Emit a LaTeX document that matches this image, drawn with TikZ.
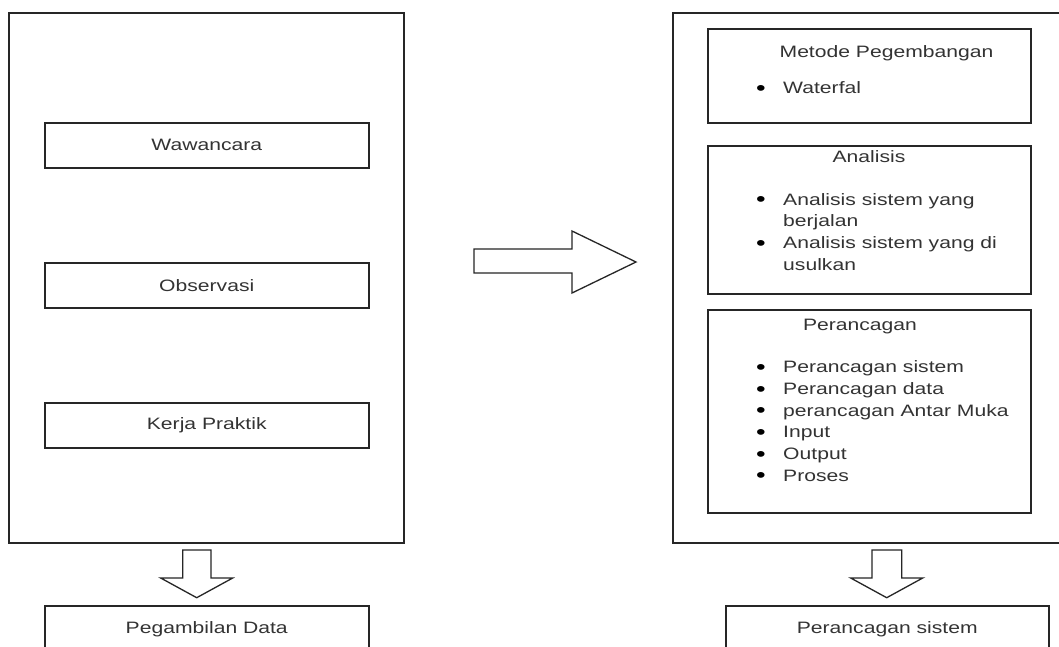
\documentclass[tikz,border=0pt]{standalone}
\usepackage{fontspec}
\setmainfont[FakeStretch=1.28]{Liberation Sans}
\definecolor{txt}{HTML}{333333}
\definecolor{ln}{HTML}{262626}
\newcommand{\lbul}{\textcolor{black}{\raisebox{-1.7pt}{\scalebox{1.3}{\textbullet}}}}
\begin{document}
\begin{tikzpicture}[x=1pt,y=-1pt,
  every node/.style={font=\fontsize{16.5}{21.7}\selectfont, text=txt},
  box/.style={draw=ln, line width=1.5pt, inner sep=0pt, anchor=north west},
  blockarrow/.style={draw=ln, line width=1.3pt, fill=white, line join=miter},
  listtext/.style={anchor=base west, inner sep=0pt}]
\clip (0,0) rectangle (1059,646);
\fill[white] (0,0) rectangle (1059,646);

% left column
\node[box, minimum width=395, minimum height=530] (lbig) at (8,12) {};
\node[box, minimum width=324, minimum height=45] (waw) at (44,122) {Wawancara};
\node[box, minimum width=324, minimum height=45] (obs) at (44,262) {Observasi};
\node[box, minimum width=324, minimum height=45] (kp) at (44,402) {Kerja Praktik};
\node[box, minimum width=324, minimum height=46] (peg) at (44,605) {Pegambilan Data};

% right column
\node[box, minimum width=410, minimum height=530] (rbig) at (672,12) {};
\node[box, minimum width=323, minimum height=94] (met) at (707,28) {};
\node[box, minimum width=323, minimum height=148] (ana) at (707,145) {};
\node[box, minimum width=323, minimum height=203] (per) at (707,309) {};
\node[box, minimum width=323, minimum height=46] (ps) at (725,605) {Perancagan sistem};

\node[anchor=base, inner sep=0pt] (metT) at (886.5,57.3) {Metode Pegembangan};
\node[listtext] (metL) at (756,93.3) {\begin{tabular}[t]{@{}l@{\hspace{17.4pt}}l@{}}\lbul & Waterfal\end{tabular}};

\node[anchor=base, inner sep=0pt] (anaT) at (869,162.7) {Analisis};
\node[listtext] (anaL) at (756,205) {\begin{tabular}[t]{@{}l@{\hspace{17.4pt}}l@{}}\lbul & Analisis sistem yang\\ & berjalan\\ \lbul & Analisis sistem yang di\\ & usulkan\end{tabular}};

\node[anchor=base, inner sep=0pt] (perT) at (860,330) {Perancagan};
\node[listtext] (perL) at (756,372.7) {\begin{tabular}[t]{@{}l@{\hspace{17.4pt}}l@{}}\lbul & Perancagan sistem\\ \lbul & Perancagan data\\ \lbul & perancagan Antar Muka\\ \lbul & Input\\ \lbul & Output\\ \lbul & Proses\end{tabular}};

% block arrows
\draw[blockarrow] (474,249) -- (572,249) -- (572,231) -- (636,262) -- (572,293) -- (572,273) -- (474,273) -- cycle;
\draw[blockarrow] (182.7,550) -- (211,550) -- (211,578) -- (232.7,578) -- (196.7,597.7) -- (160.7,578) -- (182.7,578) -- cycle;
\draw[blockarrow] (872,550) -- (901.7,550) -- (901.7,578) -- (922.7,578) -- (886.7,597.7) -- (850.7,578) -- (872,578) -- cycle;
\end{tikzpicture}
\end{document}
